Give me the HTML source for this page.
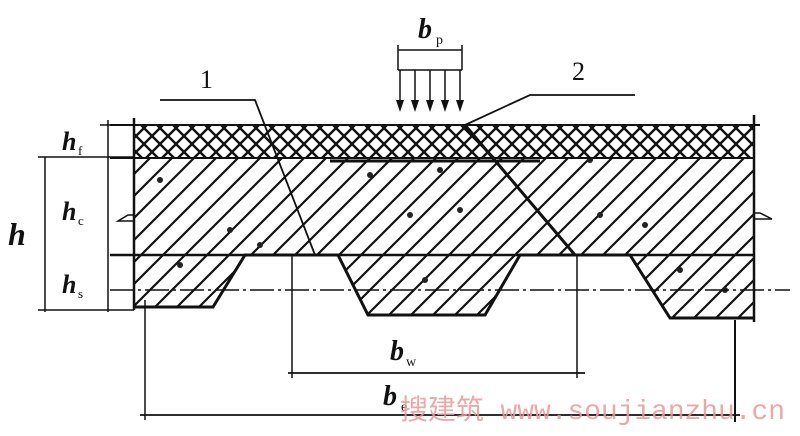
<!DOCTYPE html>
<html><head><meta charset="utf-8"><style>
html,body{margin:0;padding:0;background:#fff;width:800px;height:436px;overflow:hidden}
svg{display:block}
</style></head><body>
<svg width="800" height="436" viewBox="0 0 800 436" xmlns="http://www.w3.org/2000/svg">
<defs>
<pattern id="cross" width="16" height="16" patternUnits="userSpaceOnUse">
<path d="M0 0L16 16M16 0L0 16M-8 8L8 24M8 -8L24 8M8 24L24 8M-8 8L8 -8" stroke="#111" stroke-width="2.4"/>
</pattern>
<pattern id="diag" width="22" height="22" patternUnits="userSpaceOnUse">
<path d="M0 22L22 0M-11 11L11 -11M11 33L33 11" stroke="#111" stroke-width="2.2"/>
</pattern>
<clipPath id="conc">
<path d="M134 158H754V318H670L630 255H520L485 315H368L338 255H245L213 307H134Z"/>
</clipPath>
</defs>
<rect x="134" y="125" width="620" height="33" fill="url(#cross)"/>
<rect x="134" y="158" width="620" height="162" fill="url(#diag)" clip-path="url(#conc)"/>
<g fill="#222" clip-path="url(#conc)">
<circle cx="160" cy="180" r="3"/><circle cx="230" cy="230" r="3"/><circle cx="260" cy="245" r="3"/><circle cx="370" cy="175" r="3"/><circle cx="410" cy="215" r="3"/><circle cx="440" cy="170" r="3"/><circle cx="460" cy="210" r="3"/><circle cx="600" cy="215" r="3"/><circle cx="645" cy="225" r="3"/><circle cx="680" cy="270" r="3"/><circle cx="425" cy="280" r="3"/><circle cx="180" cy="265" r="3"/><circle cx="725" cy="290" r="3"/><circle cx="590" cy="160" r="3"/>
</g>
<g stroke="#111" fill="none">
<line x1="110" y1="125" x2="760" y2="125" stroke-width="2"/>
<line x1="110" y1="158" x2="754" y2="158" stroke-width="2"/>
<line x1="110" y1="255" x2="754" y2="255" stroke-width="2.5"/>
<path d="M134 307H213L245 255H338L368 315H485L520 255H630L670 318H754" stroke-width="3"/>
<line x1="134" y1="118" x2="134" y2="310" stroke-width="2.5"/>
<line x1="754" y1="115" x2="754" y2="322" stroke-width="2.5"/>
<line x1="330" y1="161" x2="540" y2="161" stroke-width="3"/>
<line x1="110" y1="290" x2="790" y2="290" stroke-width="1.5" stroke-dasharray="24,4,3,4"/>
<line x1="45" y1="157" x2="45" y2="312" stroke-width="1.5"/>
<line x1="108" y1="120" x2="108" y2="312" stroke-width="1.5"/>
<line x1="38" y1="157" x2="134" y2="157" stroke-width="1.5"/>
<line x1="38" y1="310" x2="134" y2="310" stroke-width="1.5"/>
<line x1="100" y1="125" x2="134" y2="125" stroke-width="1.5"/>
<path d="M134 215H128L118 221H134" stroke-width="1.5"/>
<path d="M754 213H760L772 219H754" stroke-width="1.5"/>
<line x1="292" y1="255" x2="292" y2="378" stroke-width="1.5"/>
<line x1="577" y1="255" x2="577" y2="378" stroke-width="1.5"/>
<line x1="288" y1="373" x2="585" y2="373" stroke-width="1.8"/>
<line x1="145" y1="300" x2="145" y2="420" stroke-width="1.5"/>
<line x1="735" y1="320" x2="735" y2="422" stroke-width="2"/>
<line x1="140" y1="415" x2="740" y2="415" stroke-width="1.8"/>
<path d="M160 100H255L315 255" stroke-width="1.8"/>
<path d="M635 95H530L465 125" stroke-width="1.8"/>
<line x1="465" y1="125" x2="575" y2="255" stroke-width="3"/>
<line x1="398" y1="50" x2="462" y2="50" stroke-width="1.5"/>
<line x1="398" y1="45" x2="398" y2="70" stroke-width="1.5"/>
<line x1="462" y1="45" x2="462" y2="70" stroke-width="1.5"/>
<line x1="398" y1="70" x2="462" y2="70" stroke-width="1.5"/>
<g stroke-width="1.5">
<line x1="400" y1="70" x2="400" y2="108"/><line x1="415" y1="70" x2="415" y2="108"/><line x1="430" y1="70" x2="430" y2="108"/><line x1="445" y1="70" x2="445" y2="108"/><line x1="460" y1="70" x2="460" y2="108"/>
</g>
</g>
<g fill="#111">
<path d="M396 100L400 112L404 100Z"/><path d="M411 100L415 112L419 100Z"/><path d="M426 100L430 112L434 100Z"/><path d="M441 100L445 112L449 100Z"/><path d="M456 100L460 112L464 100Z"/>
</g>
<g font-family="Liberation Serif, serif" font-style="italic" fill="#111">
<text x="418" y="38" font-size="28" font-weight="bold">b</text><text x="436" y="44" font-size="14" font-style="normal">p</text>
<text x="62" y="150" font-size="26" font-weight="bold">h</text><text x="78" y="155" font-size="13" font-style="normal">f</text>
<text x="62" y="220" font-size="26" font-weight="bold">h</text><text x="78" y="225" font-size="13" font-style="normal">c</text>
<text x="62" y="293" font-size="26" font-weight="bold">h</text><text x="78" y="298" font-size="13" font-style="normal">s</text>
<text x="8" y="245" font-size="32" font-weight="bold">h</text>
<text x="390" y="360" font-size="28" font-weight="bold">b</text><text x="406" y="366" font-size="14" font-style="normal">w</text>
<text x="383" y="405" font-size="28" font-weight="bold">b</text><text x="401" y="411" font-size="14" font-style="normal">e</text>
<text x="200" y="88" font-size="26" font-style="normal">1</text>
<text x="572" y="80" font-size="26" font-style="normal">2</text>
</g>
<text x="400" y="419" font-family="Liberation Mono, Noto Sans CJK SC, monospace" font-size="28" fill="#e89a9a" opacity="0.85" textLength="385">搜建筑 www.soujianzhu.cn</text>
</svg>
</body></html>
